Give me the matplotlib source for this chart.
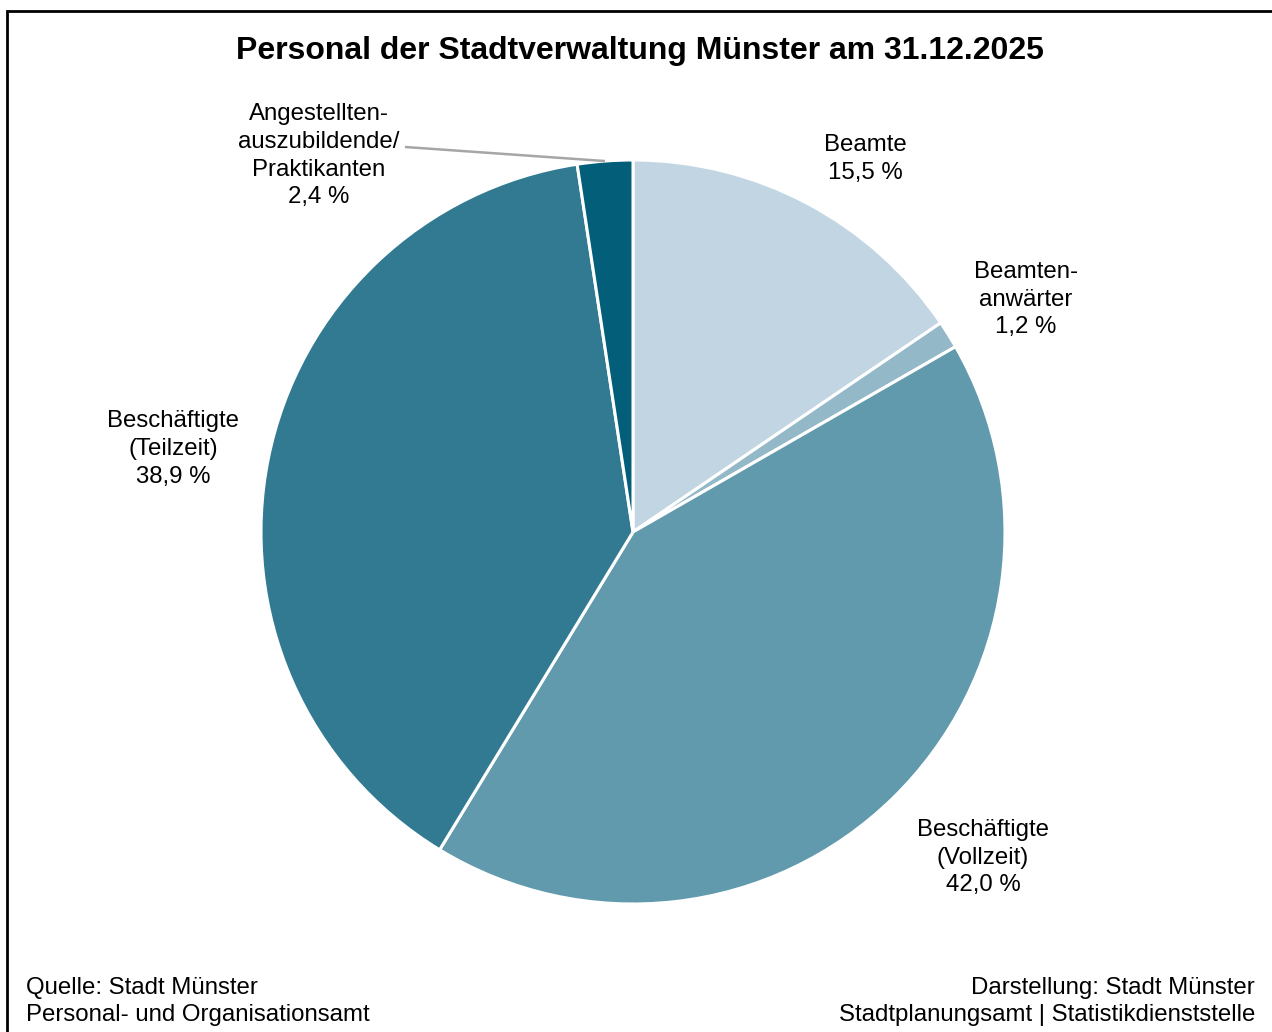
import numpy as np
import matplotlib.pyplot as plt
from matplotlib.patches import Rectangle

plt.rcParams['font.family'] = ['Liberation Sans', 'DejaVu Sans']

# Daten
kategorien = ['Beamte', 'Beamten-\nanwärter', 'Beschäftigte\n(Vollzeit)',
              'Beschäftigte\n(Teilzeit)', 'Angestellten-\nauszubildende/\nPraktikanten']
anteile = [15.5, 1.2, 42.0, 38.9, 2.4]
farben = ['#c2d5e2', '#93b8c8', '#6199ad', '#317a92', '#025e79']

# Position der Beschriftungen (Pie-Koordinaten, Radius = 1)
label_pos = [(0.626, 1.003), (1.056, 0.624), (0.941, -0.876),
             (-1.237, 0.223), (-0.844, 1.011)]

W, H = 1272, 1032
fig = plt.figure(figsize=(W / 100, H / 100), dpi=100)

# Rahmen
fig.patches.append(Rectangle((6.5 / W, -0.1), 1.2, (H - 10.5) / H + 0.1,
                             transform=fig.transFigure, fill=False,
                             edgecolor='black', linewidth=2))

cx, cy, r = 633, 532, 372
ax = fig.add_axes([(cx - r) / W, (H - cy - r) / H, 2 * r / W, 2 * r / H])
wedges, _ = ax.pie(anteile, colors=farben, startangle=90, counterclock=False,
                   radius=1, wedgeprops=dict(edgecolor='white', linewidth=2.2))
ax.set_xlim(-1, 1)
ax.set_ylim(-1, 1)
ax.set_aspect('equal')
ax.axis('off')

for w, name, wert, (lx, ly) in zip(wedges, kategorien, anteile, label_pos):
    txt = name + '\n' + f'{wert:.1f}'.replace('.', ',') + ' %'
    ax.text(lx, ly, txt, ha='center', va='center', fontsize=17.3,
            linespacing=1.33, clip_on=False)

# Linie für kleines Segment
w = wedges[4]
mid = np.deg2rad((w.theta1 + w.theta2) / 2)
ax.plot([-0.613, np.cos(mid)], [1.035, np.sin(mid)], color='#a6a6a6',
        linewidth=1.8, clip_on=False, solid_capstyle='butt')

fig.text(640 / W, 1 - 51 / H, 'Personal der Stadtverwaltung Münster am 31.12.2025',
         ha='center', va='center', fontsize=23, fontweight='bold')

fig.text(26 / W, 1 - 1001.5 / H, 'Quelle: Stadt Münster\nPersonal- und Organisationsamt',
         ha='left', va='center', fontsize=17.3, linespacing=1.33)
fig.text(1255 / W, 1 - 1001.5 / H, 'Darstellung: Stadt Münster\nStadtplanungsamt | Statistikdienststelle',
         ha='right', va='center', fontsize=17.3, linespacing=1.33)

fig.savefig('out.png', dpi=100)
